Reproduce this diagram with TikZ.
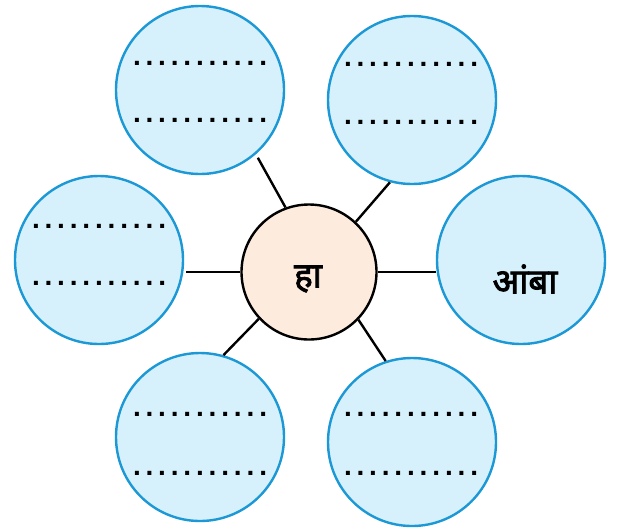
\documentclass[tikz,border=0pt]{standalone}
\usepackage{fontspec}
\newfontfamily\deva[Script=Devanagari, FakeBold=2.5]{Noto Sans}
\setmainfont{Liberation Sans}
\definecolor{outerfill}{HTML}{D6F1FB}
\definecolor{outerline}{HTML}{1B98D5}
\definecolor{centerfill}{HTML}{FDEBDD}
\tikzset{
  outercirc/.style={circle, draw=outerline, fill=outerfill, line width=2.4pt, minimum size=168pt, inner sep=0pt},
  centercirc/.style={circle, draw=black, fill=centerfill, line width=2.4pt, minimum size=135pt, inner sep=0pt},
  conn/.style={draw=black, line width=2.4pt},
  dotrow/.style={inner sep=0pt, anchor=base, font=\fontsize{28}{28}\selectfont\bfseries},
  lbl/.style={font=\fontsize{35}{40}\selectfont\deva}
}
\newcommand\dotline[2]{\node[dotrow] at (#1,#2+4) {\makebox[134pt]{.\hfill.\hfill.\hfill.\hfill.\hfill.\hfill.\hfill.\hfill.\hfill.\hfill.}};}
\begin{document}
\begin{tikzpicture}[x=1pt,y=-1pt]
\useasboundingbox (0,0) rectangle (617,528);
\node[outercirc] (tl) at (200,90) {};
\node[outercirc] (tr) at (412,100) {};
\node[outercirc] (l) at (99,260) {};
\node[outercirc] (r) at (521,260) {};
\node[outercirc] (bl) at (200,437) {};
\node[outercirc] (br) at (412,442) {};
\node[centercirc] (c) at (309,272) {};
\node[lbl] (ctext) at (308,279) {हा};
\node[lbl] (rtext) at (525,279) {आंबा};
\dotline{200}{61}\dotline{200}{118}
\dotline{411}{62}\dotline{411}{120}
\dotline{99}{224}\dotline{99}{281}
\dotline{200}{412}\dotline{200}{471}
\dotline{411}{412}\dotline{411}{471}
\draw[conn, shorten >=4pt] (c.110) -- (tl.-49);
\draw[conn] (c.47) -- (tr.255);
\draw[conn, shorten >=2pt] (c.west) -- (l.east |- c.west);
\draw[conn] (c.east) -- (r.west |- c.east);
\draw[conn] (c.223) -- (bl.74);
\draw[conn] (c.-44) -- (br.108);
\end{tikzpicture}
\end{document}
